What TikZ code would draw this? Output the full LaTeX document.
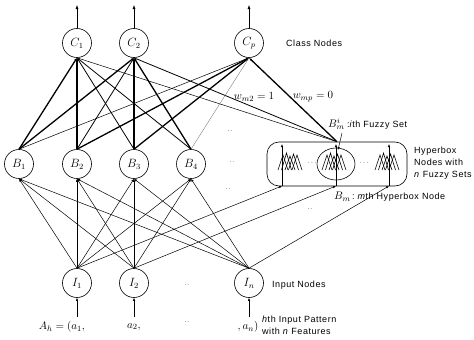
\documentclass[tikz,border=0pt]{standalone}
\usepackage{fontspec}
\newfontfamily\lab{Liberation Sans}[LetterSpace=6.0]
\usetikzlibrary{arrows.meta}
\newcommand\fzgroup[1]{%
  \foreach \o/\h in {0/15,3.5/17,7/14,10.5/16,14/15}{%
    \draw[line width=0.6pt] (#1+\o,170) -- (#1+\o+5,170-\h) -- (#1+\o+10,170);}}
\begin{document}
\begin{tikzpicture}[x=1pt,y=-1pt,
  neuron/.style={draw,circle,minimum size=29pt,inner sep=0pt,line width=0.6pt,font=\fontsize{12}{14}\selectfont},
  lbl/.style={font=\lab\fontsize{9}{12}\selectfont,inner sep=0pt},
  mlbl/.style={font=\fontsize{11}{13}\selectfont,inner sep=0pt},
  dd/.style={font=\fontsize{7}{8}\selectfont,inner sep=0pt},
  bold/.style={line width=1.3pt},
  med/.style={line width=0.8pt},
  thinl/.style={line width=0.5pt},
  faint/.style={line width=0.3pt,black!60},
  tip/.style={-{Latex[length=3pt,width=2.4pt]}},
  ]
\useasboundingbox (0,0) rectangle (474,340);
% nodes
\node[neuron] (C1) at (77,43) {$C_1$};
\node[neuron] (C2) at (134,43) {$C_2$};
\node[neuron] (Cp) at (249,43) {$C_p$};
\node[neuron] (B1) at (19,164) {$B_1$};
\node[neuron] (B2) at (77,164) {$B_2$};
\node[neuron] (B3) at (134,164) {$B_3$};
\node[neuron] (B4) at (191,164) {$B_4$};
\node[neuron] (I1) at (77,283) {$I_1$};
\node[neuron] (I2) at (134,283) {$I_2$};
\node[neuron] (In) at (249,283) {$I_n$};
\node[draw,rounded corners=12pt,minimum width=140pt,minimum height=44pt,line width=0.6pt] (Bm) at (337,164) {};
\draw[line width=0.6pt] (336,164) ellipse (19pt and 16pt);
% fuzzy sets
\fzgroup{278}
\fzgroup{322}
\fzgroup{375}
\node[dd] (d1) at (312,163) {$\cdots$};
\node[dd] (d2) at (364,163) {$\cdots$};
\coordinate (h1) at (282,186);
\coordinate (h2) at (336,186);
\coordinate (h3) at (389,186);
\coordinate (t1) at (282,144);
\coordinate (t2) at (336,144);
\coordinate (t3) at (389,144);
\foreach \i in {1,2,3} \draw[thinl,tip] (h\i) -- (t\i);
% outputs and inputs
\coordinate (o1) at (77,5); \coordinate (o2) at (134,5); \coordinate (op) at (249,5);
\draw[thinl,-{Latex[length=4pt,width=3pt]}] (C1) -- (o1);
\draw[thinl,-{Latex[length=4pt,width=3pt]}] (C2) -- (o2);
\draw[thinl,-{Latex[length=4pt,width=3pt]}] (Cp) -- (op);
\coordinate (n1) at (77,317); \coordinate (n2) at (134,317); \coordinate (nn) at (249,317);
\draw[thinl,tip] (n1) -- (I1);
\draw[thinl,tip] (n2) -- (I2);
\draw[thinl,tip] (nn) -- (In);
% B to C
\draw[bold,tip] (B1.north) -- (C1.south);
\draw[bold,tip] (B2.north) -- (C1.south);
\draw[med,tip] (B3.north) -- (C1.south);
\draw[med,tip] (B4.north) -- (C1.south);
\draw[thinl] (Bm.north) -- (C1.south);
\draw[bold,tip] (B1.north) -- (C2.south);
\draw[med,tip] (B2.north) -- (C2.south);
\draw[bold,tip] (B3.north) -- (C2.south);
\draw[bold,tip] (B4.north) -- (C2.south);
\draw[med] (Bm.north) -- (C2.south);
\draw[thinl,tip] (B1.north) -- (Cp.south);
\draw[bold,tip] (B2.north) -- (Cp.south);
\draw[bold,tip] (B3.north) -- (Cp.south);
\draw[faint] (B4.north) -- (Cp.south);
\draw[bold,tip] (Bm.north) -- (Cp.south);
% I to B
\foreach \b in {B1,B2,B3,B4}{
  \draw[thinl,tip] (I1.north) -- (\b.south);
  \draw[thinl,tip] (I2.north) -- (\b.south);
  \draw[thinl,tip] (In.north) -- (\b.south);
}
\draw[thinl,tip] (I1.north) -- (h1);
\draw[thinl,tip] (I2.north) -- (h2);
\draw[thinl,tip] (In.north) -- (h3);
% labels
\node[lbl,anchor=west] (lc) at (286,43) {Class Nodes};
\node[lbl,anchor=west] (li) at (272,285) {Input Nodes};
\node[lbl,anchor=west,align=left] (lp) at (262,325) {\textit{h}th Input Pattern\\ with \textit{n} Features};
\node[lbl,anchor=west,align=left] (lh) at (414,163) {Hyperbox\\Nodes with\\\textit{n} Fuzzy Sets};
\node[lbl,anchor=west] (lbi) at (328,124) {\fontsize{11}{13}\selectfont$B_m^i$\fontsize{9}{12}\selectfont\;:\textit{i}th Fuzzy Set};
\node[lbl,anchor=west] (lbm) at (334,197) {\fontsize{11}{13}\selectfont$B_m$\fontsize{9}{12}\selectfont\,:\ \textit{m}th Hyperbox Node};
\coordinate (a1) at (342,133); \coordinate (a2) at (338,150);
\draw[thinl,tip] (a1) -- (a2);
\node[mlbl] (w1) at (254,97) {$w_{m2}=1$};
\node[mlbl] (w2) at (313,97) {$w_{mp}=0$};
\node[mlbl] (x1) at (62,327) {$A_h=(a_1,$};
\node[mlbl] (x2) at (134,327) {$a_2,$};
\node[mlbl] (xn) at (248,327) {$,a_n)$};
% dots
\node[dd] at (187,322) {..};
\node[dd] at (187,285) {..};
\node[dd] at (230,131) {..};
\node[dd] at (232,162) {..};
\node[dd] at (228,189) {..};
\node[dd] at (310,209) {..};
\end{tikzpicture}
\end{document}
